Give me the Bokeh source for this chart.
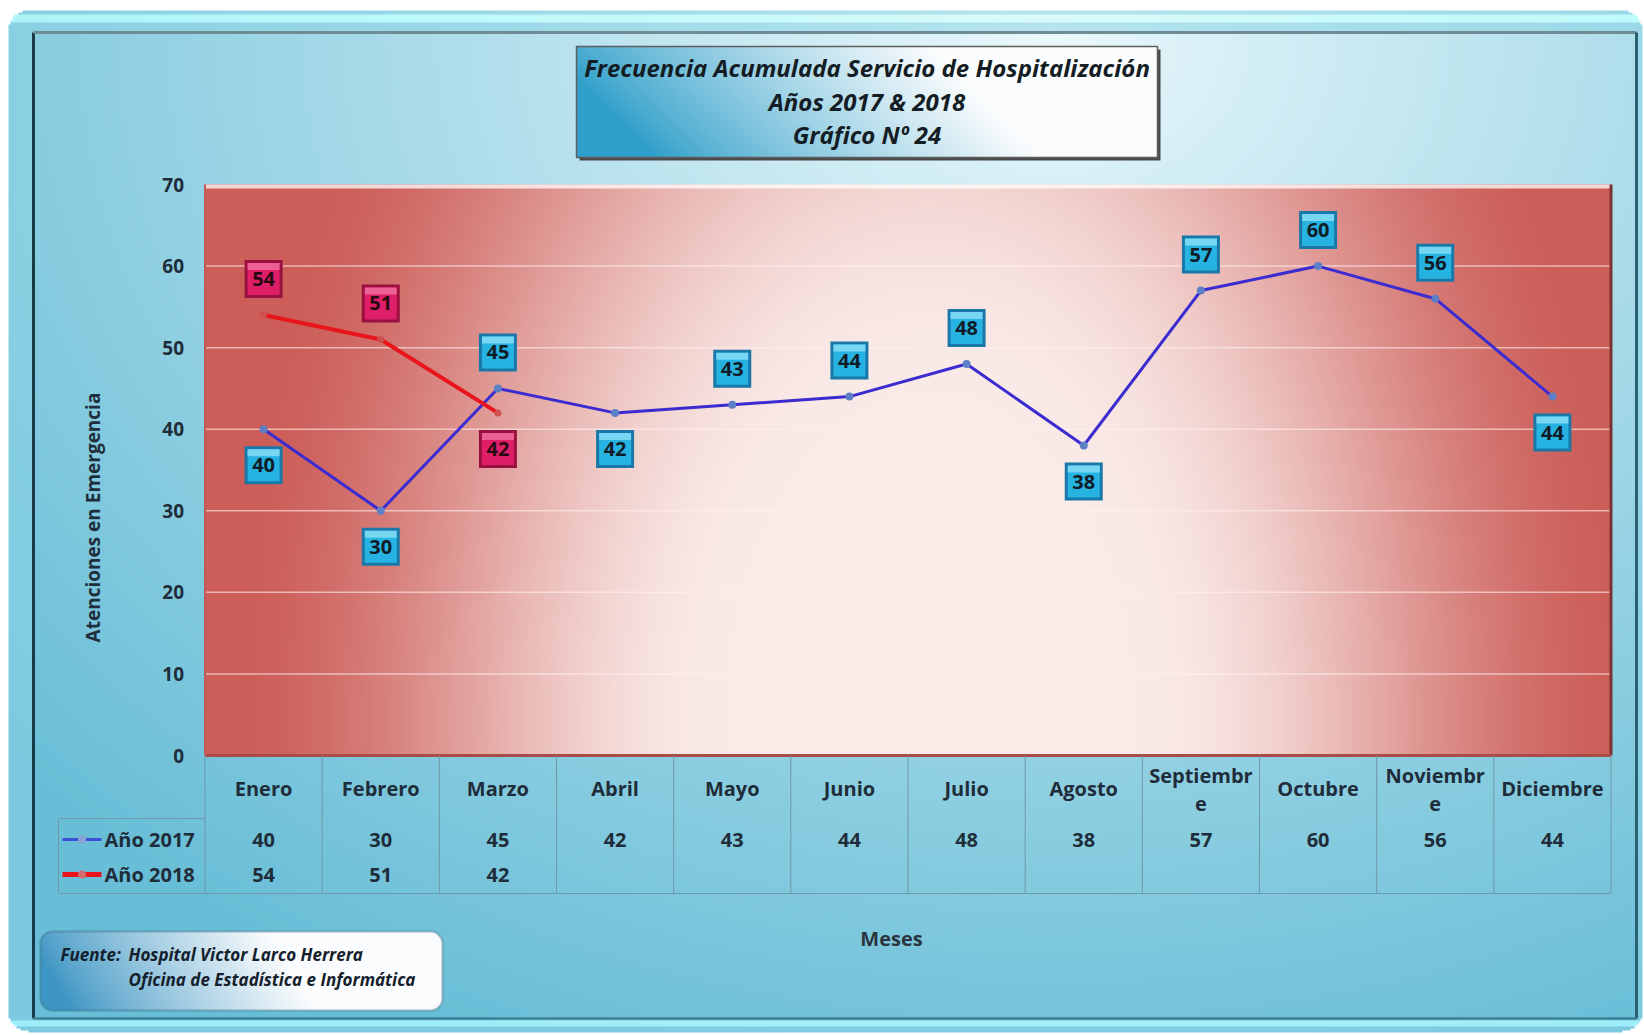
import numpy as np
from math import pi
from bokeh.plotting import figure
from bokeh.models import Range1d, BoxAnnotation
from bokeh.core.properties import value
from bokeh.embed import file_html
from bokeh.resources import INLINE

# ---------------- data ----------------
meses = ["Enero", "Febrero", "Marzo", "Abril", "Mayo", "Junio",
         "Julio", "Agosto", "Septiembre", "Octubre", "Noviembre", "Diciembre"]
anio_2017 = [40, 30, 45, 42, 43, 44, 48, 38, 57, 60, 56, 44]
anio_2018 = [54, 51, 42]
series = ["Año 2017", "Año 2018"]
ticks_y = [0, 10, 20, 30, 40, 50, 60, 70]

titulo = ["Frecuencia Acumulada Servicio de Hospitalización",
          "Años 2017 & 2018",
          "Gráfico Nº 24"]
titulo_y = "Atenciones en Emergencia"
titulo_x = "Meses"
fuente_rotulo = "Fuente:"
fuente = ["Hospital Victor Larco Herrera", "Oficina de Estadística e Informática"]

# side of the point where each value tag sits (+1 above, -1 below)
lado_2017 = [-1, -1, 1, -1, 1, 1, 1, -1, 1, 1, 1, -1]
lado_2018 = [1, 1, -1]
# header cells too narrow for these names: break point of the wrap
corte = {"Septiembre": 9, "Noviembre": 8}

# ---------------- layout (canvas pixels, measured from top-left) ----------------
W, H = 1644, 1035
PL, PR, PT, PB = 204.5, 1610.5, 184.0, 755.0
YMAX = 70
K = (PB - PT) / YMAX            # pixels per unit on the value axis
CW = (PR - PL) / len(meses)     # category width
TAB_L, TAB_B = 58, 893
FONT = value("Open Sans")


def Y(py):
    return H - py


def smooth(t, a, b):
    s = np.clip((t - a) / (b - a), 0, 1)
    return s * s * (3 - 2 * s)


def rounded(X, Yp, l, t, r, b, rad):
    dx = np.maximum(np.maximum(l + rad - X, X - (r - rad)), 0)
    dy = np.maximum(np.maximum(t + rad - Yp, Yp - (b - rad)), 0)
    return (X >= l) & (X <= r) & (Yp >= t) & (Yp <= b) & (dx ** 2 + dy ** 2 <= rad ** 2)


def to_rgba(rgb, alpha):
    h, w = alpha.shape
    arr = np.zeros((h, w, 4), dtype=np.uint8)
    for c in range(3):
        arr[..., c] = np.clip(rgb[c], 0, 255).astype(np.uint8)
    arr[..., 3] = alpha.astype(np.uint8)
    img = arr.view(np.uint32).reshape(h, w)
    return np.ascontiguousarray(np.flipud(img))


def mix(c0, c1, t):
    return [c0[i] + (c1[i] - c0[i]) * t for i in range(3)]


p = figure(width=W, height=H, title=None,
           x_range=Range1d(0, W), y_range=Range1d(0, H),
           toolbar_location=None, output_backend="svg",
           min_border=0, x_axis_location=None, y_axis_location=None)
p.grid.visible = False
p.outline_line_color = None
p.background_fill_color = "white"
p.border_fill_color = "white"
p.extra_x_ranges = {"mes": Range1d(-PL / CW - 0.5, (W - PL) / CW - 0.5)}
p.extra_y_ranges = {"cnt": Range1d((PB - H) / K, PB / K)}

# ---------------- panel background ----------------
S = 2
w2, h2 = W // S, int(np.ceil(H / S))
gx, gy = np.meshgrid((np.arange(w2) + 0.5) * S, (np.arange(h2) + 0.5) * S)
t = np.clip(np.sqrt(((gx - 1050) / 1400) ** 2 + ((gy - 40) / 1100) ** 2), 0, 1) ** 0.9
col = mix((236, 249, 252), (104, 190, 215), t)
rim = ~((gx > 34) & (gx < 1636) & (gy > 32) & (gy < 1018))
rim_col = mix(col, (140, 212, 230), 0.55)
hl = rim & (((gy > 14) & (gy < 22)) | ((gy > 1020) & (gy < 1026)))
for c in range(3):
    col[c] = np.where(rim, rim_col[c], col[c])
    col[c] = np.where(hl, np.minimum(col[c] + 35, 250), col[c])
alpha = np.where(rounded(gx, gy, 8, 10, 1642, 1031, 20), 255, 0)
p.image_rgba(image=[to_rgba(col, alpha)], x=0, y=H - h2 * S, dw=w2 * S, dh=h2 * S, level="image")

# inner bevel of the panel
p.segment(x0=[33], y0=[Y(32)], x1=[33], y1=[Y(1018)], line_color="#1b3a47", line_width=3)
p.segment(x0=[33], y0=[Y(32)], x1=[1636], y1=[Y(32)], line_color="#6f8c95", line_width=3)
p.segment(x0=[1636], y0=[Y(32)], x1=[1636], y1=[Y(1018)], line_color="#2b5f72", line_width=3)
p.segment(x0=[33], y0=[Y(1018)], x1=[1636], y1=[Y(1018)], line_color="#3f7f93", line_width=2.5)

# ---------------- plot area ----------------
pw, ph = int(PR - PL), int(PB - PT)
w3, h3 = pw // S, int(np.ceil(ph / S))
ax, ay = np.meshgrid(PL + (np.arange(w3) + 0.5) * S, PT + (np.arange(h3) + 0.5) * S)
ta = np.sqrt(((ax - 930) / 680) ** 2 + ((ay - 720) / 1100) ** 2)
pcol = mix((250, 235, 232), (204, 93, 88), smooth(ta, 0.3, 1.05))
p.image_rgba(image=[to_rgba(pcol, np.full(ax.shape, 255))], x=PL, y=Y(PT + h3 * S),
             dw=w3 * S, dh=h3 * S, level="image")

# grid lines
grid_vals = ticks_y[1:-1]
p.segment(x0=[PL] * len(grid_vals), x1=[PR] * len(grid_vals), y0=grid_vals, y1=grid_vals,
          y_range_name="cnt", line_color="#fff0f0", line_alpha=0.6, line_width=1.5)

# 3D edges of the plot area
p.segment(x0=[PL], y0=[Y(PT + 2)], x1=[PR], y1=[Y(PT + 2)], line_color="white", line_alpha=0.75, line_width=4)
p.segment(x0=[PR], y0=[Y(PT)], x1=[PR], y1=[Y(PB)], line_color="#7b3431", line_width=3)
p.segment(x0=[PL], y0=[Y(PB)], x1=[PR], y1=[Y(PB)], line_color="#a94b47", line_width=3)
p.segment(x0=[PL], y0=[Y(PT)], x1=[PL], y1=[Y(PB)], line_color="#c05a56", line_width=2)

# ---------------- series ----------------
idx17 = list(range(len(anio_2017)))
idx18 = list(range(len(anio_2018)))
p.line(idx17, anio_2017, x_range_name="mes", y_range_name="cnt", line_color="#3b2bd0", line_width=3)
p.scatter(idx17, anio_2017, x_range_name="mes", y_range_name="cnt", size=8,
          fill_color="#5d7fc6", line_color=None)
p.line(idx18, anio_2018, x_range_name="mes", y_range_name="cnt", line_color="#e8161c", line_width=4)
p.scatter(idx18, anio_2018, x_range_name="mes", y_range_name="cnt", size=7,
          fill_color="#d0504e", line_color=None)


def etiquetas(xs, vals, lados, edge, body, light, ink):
    off = 36 / K
    ys = [v + s * off for v, s in zip(vals, lados)]
    kw = dict(x_range_name="mes", y_range_name="cnt", width_units="screen", height_units="screen")
    p.rect(xs, ys, width=38, height=38, fill_color=edge, line_color=None, **kw)
    p.rect(xs, ys, width=32, height=32, fill_color=body, line_color=None, **kw)
    p.rect(xs, [y + 12.5 / K for y in ys], width=32, height=7, fill_color=light,
           fill_alpha=0.85, line_color=None, **kw)
    p.text(xs, ys, text=[str(v) for v in vals], x_range_name="mes", y_range_name="cnt",
           text_align="center", text_baseline="middle", text_font=FONT,
           text_font_style="bold", text_font_size="20px", text_color=ink)


etiquetas(idx17, anio_2017, lado_2017, "#1a78a8", "#27b3e2", "#86dcf5", "#0f1c28")
etiquetas(idx18, anio_2018, lado_2018, "#98113f", "#de1f68", "#ee6c9c", "#2a0812")

# ---------------- value axis ----------------
p.text([PL - 21] * len(ticks_y), ticks_y, text=[str(v) for v in ticks_y], y_range_name="cnt",
       text_align="right", text_baseline="middle", text_font=FONT, text_font_style="bold",
       text_font_size="19px", text_color="#1f2d3a")
p.text([92], [Y(517)], text=[titulo_y], angle=pi / 2, text_align="center", text_baseline="middle",
       text_font=FONT, text_font_style="bold", text_font_size="19px", text_color="#1e2e3c")

# ---------------- data table under the axis ----------------
edges = [i - 0.5 for i in range(len(meses) + 1)]
p.segment(x0=edges, x1=edges, y0=[Y(PB)] * len(edges), y1=[Y(TAB_B)] * len(edges),
          x_range_name="mes", line_color="#6f98a8", line_width=1)
p.segment(x0=[TAB_L, TAB_L, TAB_L], y0=[Y(TAB_B), Y(818), Y(818)],
          x1=[PR, TAB_L, PL], y1=[Y(TAB_B), Y(TAB_B), Y(818)],
          line_color="#6f98a8", line_width=1)

uno_x, uno_t, dos_x, dos_a, dos_b = [], [], [], [], []
for i, m in enumerate(meses):
    if m in corte:
        dos_x.append(i)
        dos_a.append(m[:corte[m]])
        dos_b.append(m[corte[m]:])
    else:
        uno_x.append(i)
        uno_t.append(m)
cat_kw = dict(x_range_name="mes", text_align="center", text_baseline="middle", text_font=FONT,
              text_font_style="bold", text_font_size="20px", text_color="#1f2d3a")
p.text(uno_x, [Y(788)] * len(uno_x), text=uno_t, **cat_kw)
p.text(dos_x, [Y(775)] * len(dos_x), text=dos_a, **cat_kw)
p.text(dos_x, [Y(803)] * len(dos_x), text=dos_b, **cat_kw)
p.text(idx17, [Y(839)] * len(idx17), text=[str(v) for v in anio_2017], **cat_kw)
p.text(idx18, [Y(874)] * len(idx18), text=[str(v) for v in anio_2018], **cat_kw)

# legend keys inside the table
p.segment(x0=[62], y0=[Y(839)], x1=[101], y1=[Y(839)], line_color="#3b4fd8", line_width=3)
p.scatter([81.5], [Y(839)], size=8, fill_color="#8aa2d4", line_color=None)
p.segment(x0=[62], y0=[Y(874)], x1=[101], y1=[Y(874)], line_color="#e8161c", line_width=5)
p.scatter([81.5], [Y(874)], size=8, fill_color="#d46a6a", line_color=None)
p.text([104, 104], [Y(839), Y(874)], text=series, text_align="left", text_baseline="middle",
       text_font=FONT, text_font_style="bold", text_font_size="20px", text_color="#1f2d3a")

p.text([891], [Y(938)], text=[titulo_x], text_align="center", text_baseline="middle",
       text_font=FONT, text_font_style="bold", text_font_size="20px", text_color="#2a3540")

# ---------------- title box ----------------
TL, TR, TT, TB = 576, 1157, 46, 157
p.quad(left=[TL + 3], right=[TR + 3], top=[Y(TT + 3)], bottom=[Y(TB + 3)],
       fill_color="#4a4a4a", line_color=None)
tw, th = TR - TL, TB - TT
ux, uy = np.meshgrid((np.arange(tw) + 0.5) / tw, (np.arange(th) + 0.5) / th)
tt = np.clip((ux - 0.04) / 0.66 + (0.5 - uy) * 0.3, 0, 1) ** 0.85
tcol = mix((48, 160, 202), (250, 252, 253), tt)
p.image_rgba(image=[to_rgba(tcol, np.full(ux.shape, 255))], x=TL, y=Y(TB), dw=tw, dh=th)
p.quad(left=[TL], right=[TR], top=[Y(TT)], bottom=[Y(TB)], fill_alpha=0,
       line_color="#5e5e5e", line_width=1.5)
p.text([(TL + TR) / 2] * 3, [Y(67), Y(101), Y(134)], text=titulo, text_align="center",
       text_baseline="middle", text_font=FONT, text_font_style="bold italic",
       text_font_size="24px", text_color="#141c24")

# ---------------- source box ----------------
FL, FR, FT, FB = 40, 442, 931, 1010
fw, fh = FR - FL, FB - FT
fx, fy = np.meshgrid(FL + np.arange(fw) + 0.5, FT + np.arange(fh) + 0.5)
ft = np.clip(((fx - FL) / fw - 0.02) / 0.6 + (0.5 - (fy - FT) / fh) * 0.2, 0, 1) ** 0.85
fcol = mix((62, 150, 196), (250, 252, 253), ft)
falpha = np.where(rounded(fx, fy, FL, FT, FR, FB, 12), 255, 0)
p.image_rgba(image=[to_rgba(fcol, falpha)], x=FL, y=Y(FB), dw=fw, dh=fh)
p.add_layout(BoxAnnotation(left=FL, right=FR, top=Y(FT), bottom=Y(FB), fill_alpha=0,
                           line_color="#2e5d74", line_width=2.5, border_radius=12))
p.text([60], [Y(954)], text=[fuente_rotulo], text_align="left", text_baseline="middle",
       text_font=FONT, text_font_style="bold italic", text_font_size="17px", text_color="#14202c")
p.text([128, 128], [Y(954), Y(979)], text=fuente, text_align="left", text_baseline="middle",
       text_font=FONT, text_font_style="bold italic", text_font_size="17px", text_color="#14202c")

open("out.html", "w").write(file_html(p, INLINE))
